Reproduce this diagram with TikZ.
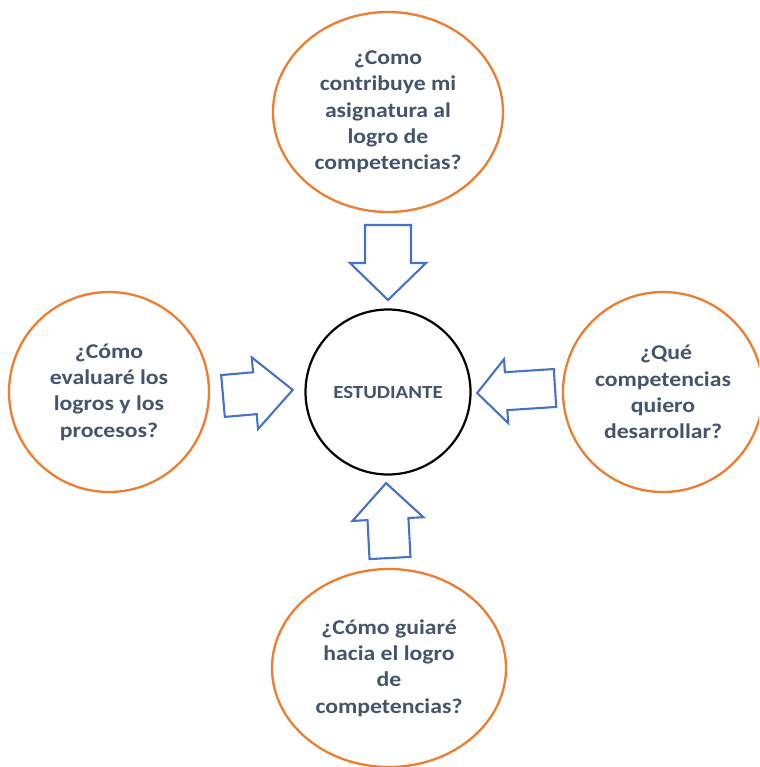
\documentclass[tikz,border=0pt]{standalone}
\usepackage{fontspec}
\usetikzlibrary{shapes.geometric}
\newfontfamily\qfont{Carlito}[FakeStretch=1.13]
\definecolor{orng}{HTML}{ED7D31}
\definecolor{blu}{HTML}{4472C4}
\definecolor{txt}{HTML}{44546A}
\tikzset{
  qbox/.style={ellipse, draw=orng, line width=2.3pt, inner sep=0pt, align=center,
    text=txt, font=\qfont\bfseries\fontsize{21}{26.3}\selectfont},
  mid/.style={circle, draw=black, line width=2.2pt, inner sep=0pt,
    minimum size=165pt, text=txt, font=\qfont\bfseries\fontsize{18.5}{22}\selectfont},
  barrow/.style={draw=blu, line width=2.1pt, fill=white, line join=miter}
}
\newcommand\blockarr[4]{% origin, angle, length, shoulder; widths via \aw and \ah
  \begin{scope}[shift={#1}, rotate=#2]
    \draw[barrow] (0,-\aw) -- (#4,-\aw) -- (#4,-\ah) -- (#3,0) -- (#4,\ah) -- (#4,\aw) -- (0,\aw) -- cycle;
  \end{scope}}
\begin{document}
\begin{tikzpicture}[x=1pt,y=-1pt]
\useasboundingbox (0,0) rectangle (759,767);
\clip (0,0) rectangle (759,767);
% nodes
\node[qbox, minimum width=230pt, minimum height=200pt] (top) at (388,112)
  {¿Como\\contribuye mi\\asignatura al\\logro de\\competencias?};
\node[qbox, minimum width=200pt, minimum height=200pt] (left) at (109,392)
  {¿Cómo\\evaluaré los\\logros y los\\procesos?};
\node[qbox, minimum width=200pt, minimum height=200pt] (right) at (663,392)
  {\hspace*{6pt}¿Qué\\competencias\\quiero\\desarrollar?};
\node[qbox, minimum width=234pt, minimum height=198pt] (bottom) at (389,668)
  {¿Cómo guiaré\\hacia el logro\\de\\competencias?};
\node[mid] (center) at (388,392) {ESTUDIANTE};
% block arrows
\def\aw{23}\def\ah{38}
\blockarr{(388,225)}{-90}{75}{38}
\def\aw{20.5}\def\ah{35.5}
\blockarr{(390,558)}{93}{75}{39}
\def\aw{21}\def\ah{36}
\blockarr{(223,396)}{5}{70}{32}
\def\aw{19}\def\ah{32}
\blockarr{(555,388)}{183.7}{78}{49}
\end{tikzpicture}
\end{document}
